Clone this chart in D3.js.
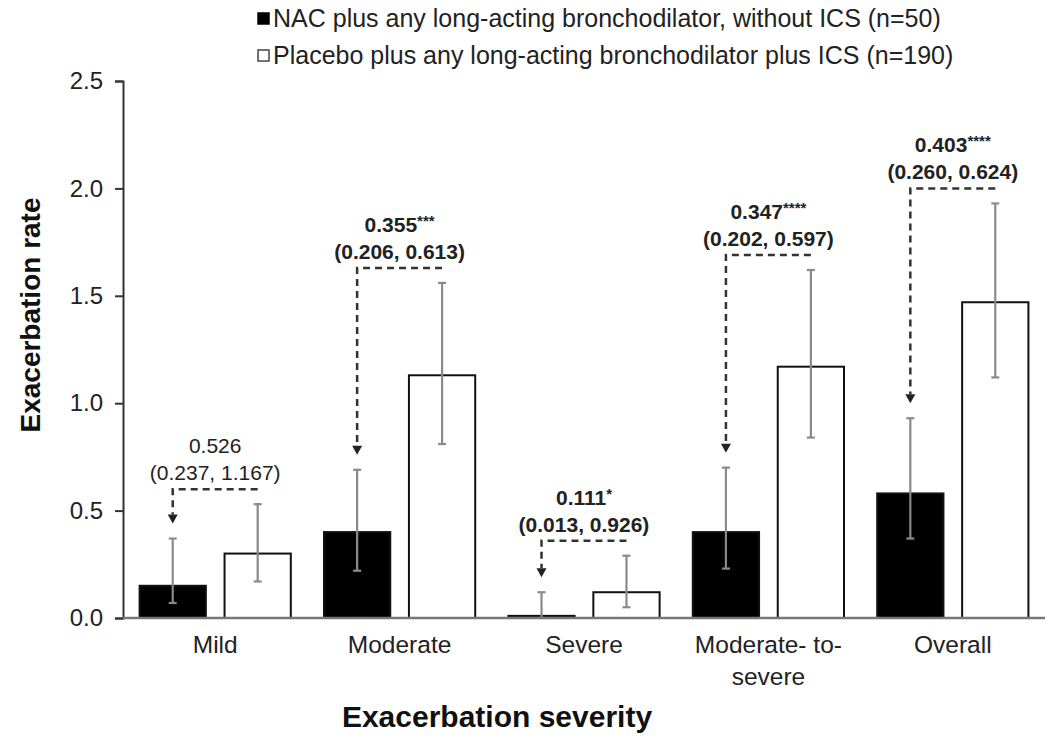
<!DOCTYPE html>
<html>
<head>
<meta charset="utf-8">
<script src="https://cdn.jsdelivr.net/npm/d3@7"></script>
<style>
  body { margin: 0; background: #fff; }
  text { font-family: Arial, "Liberation Sans", sans-serif; }
</style>
</head>
<body>
<div id="chart"></div>
<script>
// Exacerbation rates
var categories = ["Mild", "Moderate", "Severe", "Moderate- to-|severe", "Overall"];
var series = ["NAC plus any long-acting bronchodilator, without ICS (n=50)",
              "Placebo plus any long-acting bronchodilator plus ICS (n=190)"];
var nacRate = [0.15, 0.40, 0.01, 0.40, 0.58];
var nacLow  = [0.07, 0.22, 0.00, 0.23, 0.37];
var nacHigh = [0.37, 0.69, 0.12, 0.70, 0.93];
var pboRate = [0.30, 1.13, 0.12, 1.17, 1.47];
var pboLow  = [0.17, 0.81, 0.05, 0.84, 1.12];
var pboHigh = [0.53, 1.56, 0.29, 1.62, 1.93];
// rate ratios with 95% CI
var ratioText  = ["0.526", "0.355", "0.111", "0.347", "0.403"];
var ratioStars = ["", "***", "*", "****", "****"];
var ratioCI    = ["(0.237, 1.167)", "(0.206, 0.613)", "(0.013, 0.926)", "(0.202, 0.597)", "(0.260, 0.624)"];
var ratioBold  = [false, true, true, true, true];
var yTicks = [0, 0.5, 1.0, 1.5, 2.0, 2.5];

var width = 1053, height = 744;
var margin = {top: 81, right: 8, bottom: 126, left: 123};

var svg = d3.select("#chart").append("svg")
    .attr("width", width)
    .attr("height", height);

var x0 = d3.scaleBand()
    .domain(categories)
    .range([margin.left, width - margin.right])
    .paddingInner(0.18)
    .paddingOuter(0.09);

var x1 = d3.scaleBand()
    .domain([0, 1])
    .range([0, x0.bandwidth()])
    .paddingInner(0.22);

var y = d3.scaleLinear()
    .domain([0, 2.5])
    .range([height - margin.bottom, margin.top]);

var rows = categories.map(function(c, i) {
    return {cat: c, i: i,
        bars: [
            {s: 0, v: nacRate[i], lo: nacLow[i], hi: nacHigh[i]},
            {s: 1, v: pboRate[i], lo: pboLow[i], hi: pboHigh[i]}
        ]};
});

// bars
var group = svg.selectAll("g.cat")
    .data(rows)
  .enter().append("g")
    .attr("class", "cat")
    .attr("transform", function(d) { return "translate(" + x0(d.cat) + ",0)"; });

group.selectAll("rect")
    .data(function(d) { return d.bars; })
  .enter().append("rect")
    .attr("x", function(d) { return x1(d.s); })
    .attr("y", function(d) { return y(d.v); })
    .attr("width", x1.bandwidth())
    .attr("height", function(d) { return y(0) - y(d.v); })
    .attr("fill", function(d) { return d.s === 0 ? "#000" : "#fff"; })
    .attr("stroke", "#111")
    .attr("stroke-width", 2);

// error bars
var err = group.selectAll("g.err")
    .data(function(d) { return d.bars; })
  .enter().append("g")
    .attr("class", "err")
    .attr("stroke", "#8a8a8a")
    .attr("stroke-width", 2.2);

err.append("line")
    .attr("x1", function(d) { return x1(d.s) + x1.bandwidth() / 2; })
    .attr("x2", function(d) { return x1(d.s) + x1.bandwidth() / 2; })
    .attr("y1", function(d) { return y(d.lo); })
    .attr("y2", function(d) { return y(d.hi); });

[ "lo", "hi" ].forEach(function(k) {
    err.append("line")
        .attr("x1", function(d) { return x1(d.s) + x1.bandwidth() / 2 - 4; })
        .attr("x2", function(d) { return x1(d.s) + x1.bandwidth() / 2 + 4; })
        .attr("y1", function(d) { return y(d[k]); })
        .attr("y2", function(d) { return y(d[k]); });
});

// axes
var yAxis = svg.append("g")
    .attr("transform", "translate(" + margin.left + ",0)")
    .call(d3.axisLeft(y).tickValues(yTicks).tickFormat(d3.format(".1f")).tickSize(8).tickPadding(12));
yAxis.select(".domain").attr("stroke", "#333").attr("stroke-width", 2);
yAxis.selectAll(".tick line").attr("stroke", "#333").attr("stroke-width", 2);
yAxis.selectAll(".tick text")
    .attr("font-size", 24)
    .attr("fill", "#222")
    .style("font-family", "Arial, 'Liberation Sans', sans-serif");

svg.append("line")
    .attr("x1", margin.left)
    .attr("x2", width - margin.right)
    .attr("y1", y(0))
    .attr("y2", y(0))
    .attr("stroke", "#777")
    .attr("stroke-width", 2.5);

// category labels
var catLabel = svg.selectAll("text.cat")
    .data(categories)
  .enter().append("text")
    .attr("class", "cat")
    .attr("x", function(d) { return x0(d) + x0.bandwidth() / 2; })
    .attr("y", y(0) + 35)
    .attr("text-anchor", "middle")
    .attr("font-size", 24.5)
    .attr("fill", "#222");

catLabel.selectAll("tspan")
    .data(function(d) { return d.split("|"); })
  .enter().append("tspan")
    .attr("x", function() { var p = this.parentNode; return p.getAttribute("x"); })
    .attr("dy", function(d, i) { return i === 0 ? 0 : 32; })
    .text(function(d) { return d; });

// axis titles
svg.append("text")
    .attr("x", 497)
    .attr("y", 727)
    .attr("text-anchor", "middle")
    .attr("font-size", 30)
    .attr("font-weight", "bold")
    .attr("fill", "#111")
    .text("Exacerbation severity");

svg.append("text")
    .attr("transform", "translate(40,315) rotate(-90)")
    .attr("text-anchor", "middle")
    .attr("font-size", 28)
    .attr("font-weight", "bold")
    .attr("fill", "#111")
    .text("Exacerbation rate");

// rate ratio brackets
var gap = 15;
rows.forEach(function(r) {
    var i = r.i;
    var xa = x0(r.cat) + x1(0) + x1.bandwidth() / 2;
    var xb = x0(r.cat) + x1(1) + x1.bandwidth() / 2;
    var top = y(Math.max(nacHigh[i], pboHigh[i])) - gap;
    var tip = y(nacHigh[i]) - gap;
    var g = svg.append("g");

    g.append("path")
        .attr("d", "M" + xb + "," + top + "H" + xa + "V" + (tip - 9))
        .attr("fill", "none")
        .attr("stroke", "#333")
        .attr("stroke-width", 2.5)
        .attr("stroke-dasharray", "7,5");

    g.append("path")
        .attr("d", "M" + (xa - 5) + "," + (tip - 9) + "L" + (xa + 5) + "," + (tip - 9) + "L" + xa + "," + tip + "Z")
        .attr("fill", "#222");

    var cx = x0(r.cat) + x0.bandwidth() / 2;
    var t1 = g.append("text")
        .attr("x", cx)
        .attr("y", top - 36)
        .attr("text-anchor", "middle")
        .attr("font-size", 21)
        .attr("font-weight", ratioBold[i] ? "bold" : "normal")
        .attr("fill", "#222");
    t1.append("tspan").text(ratioText[i]);
    if (ratioStars[i]) {
        t1.append("tspan")
            .attr("font-size", 15)
            .attr("dy", -6)
            .text(ratioStars[i]);
    }

    g.append("text")
        .attr("x", cx)
        .attr("y", top - 9)
        .attr("text-anchor", "middle")
        .attr("font-size", 21)
        .attr("font-weight", ratioBold[i] ? "bold" : "normal")
        .attr("fill", "#222")
        .text(ratioCI[i]);
});

// legend
var legend = svg.selectAll("g.legend")
    .data(series)
  .enter().append("g")
    .attr("class", "legend")
    .attr("transform", function(d, i) { return "translate(258," + (18 + i * 37) + ")"; });

legend.append("rect")
    .attr("x", 0)
    .attr("y", -5)
    .attr("width", 11)
    .attr("height", 11)
    .attr("fill", function(d, i) { return i === 0 ? "#000" : "#fff"; })
    .attr("stroke", function(d, i) { return i === 0 ? "#000" : "#444"; })
    .attr("stroke-width", 1.5);

legend.append("text")
    .attr("x", 15)
    .attr("y", 9)
    .attr("font-size", 25)
    .attr("fill", "#222")
    .text(function(d) { return d; });
</script>
</body>
</html>
